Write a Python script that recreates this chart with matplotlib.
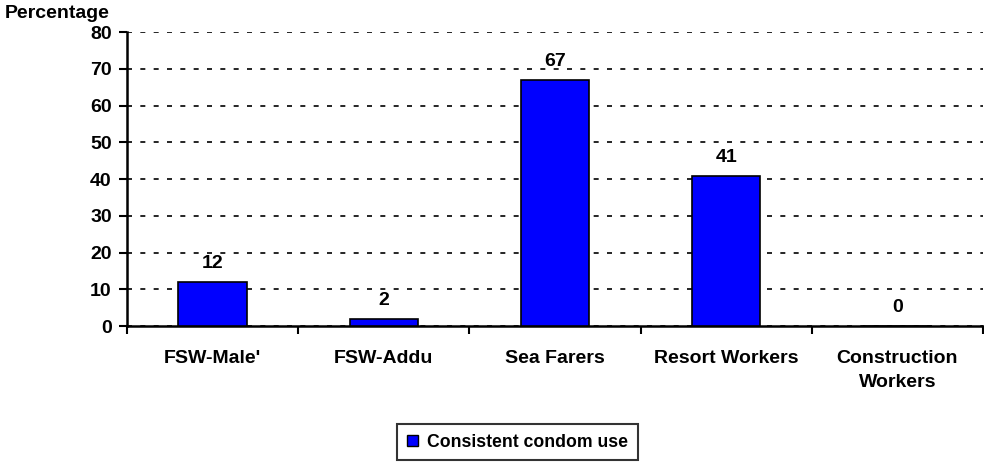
import matplotlib.pyplot as plt
from matplotlib.patches import Patch

plt.rcParams['font.family'] = ['Liberation Sans', 'DejaVu Sans']
plt.rcParams['font.weight'] = 'bold'

categories = ["FSW-Male'", "FSW-Addu", "Sea Farers", "Resort Workers", "Construction\nWorkers"]
values = [12, 2, 67, 41, 0]
series_name = "Consistent condom use"

fig = plt.figure(figsize=(9.84, 4.66), dpi=100)
ax = fig.add_axes([0.129, 0.300, 0.870, 0.631])

x = range(len(categories))
ax.bar(x, values, width=0.4, color='#0000FF', edgecolor='black', linewidth=1.2, zorder=3)
for xi, v in zip(x, values):
    ax.text(xi, v + 2.7, str(v), ha='center', va='bottom', fontsize=14, fontweight='bold')

ax.set_xlim(-0.5, len(categories) - 0.5)
ax.set_ylim(0, 80)
ax.set_yticks(range(0, 81, 10))
ax.tick_params(axis='y', direction='out', length=6, width=1.5, labelsize=14, pad=5)
ax.set_xticks(list(x))
ax.set_xticklabels(categories, fontsize=14, fontweight='bold', linespacing=1.55)
ax.tick_params(axis='x', which='major', length=0, pad=17)
ax.set_xticks([i - 0.5 for i in range(len(categories) + 1)], minor=True)
ax.tick_params(axis='x', which='minor', direction='out', length=6, width=1.5)

ax.yaxis.grid(True, linestyle=(0, (3, 5)), color='black', linewidth=1.2, zorder=0)
for s in ['top', 'right']:
    ax.spines[s].set_visible(False)
for s in ['left', 'bottom']:
    ax.spines[s].set_linewidth(1.8)

fig.text(0.005, 0.972, 'Percentage', fontsize=14, fontweight='bold', ha='left', va='center')

leg = fig.legend(handles=[Patch(facecolor='#0000FF', edgecolor='black', label=series_name)],
                 loc='center', bbox_to_anchor=(0.526, 0.051), frameon=True, fancybox=False,
                 prop={'size': 12.7, 'weight': 'bold'}, handlelength=0.65, handleheight=0.65,
                 handletextpad=0.5, borderpad=0.55, borderaxespad=0)
leg.get_frame().set_edgecolor('black')
leg.get_frame().set_linewidth(1.5)

fig.savefig('out.png', dpi=100)
